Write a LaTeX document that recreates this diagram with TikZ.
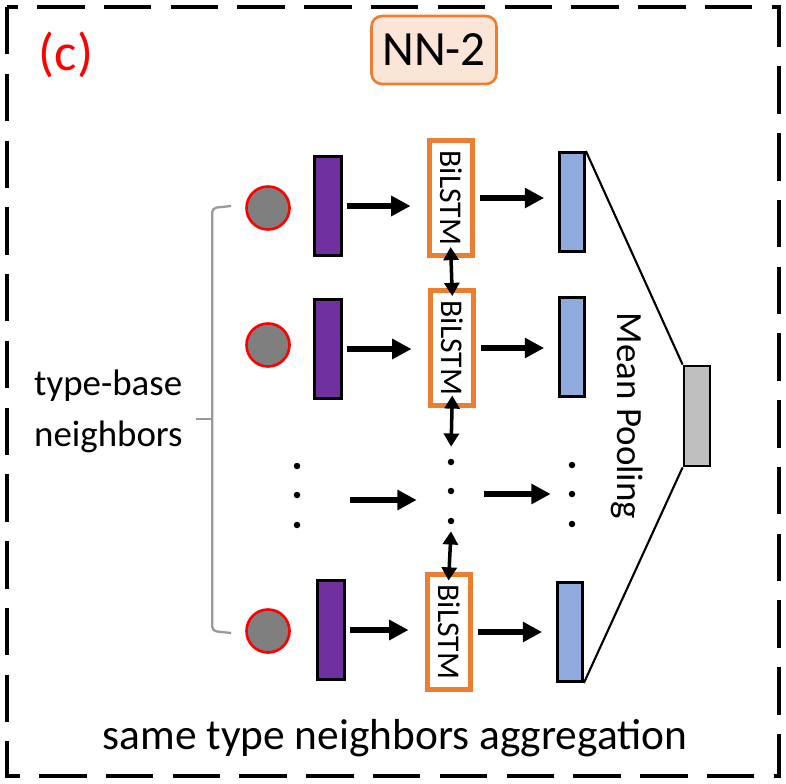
\documentclass[tikz,border=0pt]{standalone}
\usepackage{fontspec}
\setmainfont{Carlito}
\usetikzlibrary{arrows.meta}
\definecolor{nnorange}{HTML}{ED7D31}
\definecolor{nnpeach}{HTML}{FBE5D6}
\definecolor{embpurple}{HTML}{7030A0}
\definecolor{outblue}{HTML}{8FAADC}
\definecolor{poolgray}{HTML}{BFBFBF}
\definecolor{nbrgray}{HTML}{7F7F7F}
\definecolor{bracegray}{HTML}{999999}
\tikzstyle{nbr} = [circle, fill=nbrgray, draw=red, line width=1.5pt, minimum size=0.86cm, inner sep=0pt]
\tikzstyle{emb} = [rectangle, fill=embpurple, draw=black, line width=1.6pt, minimum width=0.55cm, minimum height=1.98cm, inner sep=0pt]
\tikzstyle{lstm} = [rectangle, draw=nnorange, fill=white, line width=2.8pt, rotate=-90, minimum width=2.3cm, minimum height=0.86cm, inner sep=0pt, font=\fontsize{18}{19}\selectfont]
\tikzstyle{outv} = [rectangle, fill=outblue, draw=black, line width=1.6pt, minimum width=0.5cm, minimum height=1.98cm, inner sep=0pt]
\tikzstyle{pool} = [rectangle, fill=poolgray, draw=black, line width=1.6pt, minimum width=0.52cm, minimum height=2cm, inner sep=0pt]
\tikzstyle{dotcol} = [minimum width=0.2cm, minimum height=1.6cm, inner sep=0pt]
\tikzstyle{flow} = [line width=3.5pt, -{Triangle[length=11pt,width=11pt]}]
\tikzstyle{link} = [line width=2pt, {Triangle[length=7.5pt,width=8.5pt]}-{Triangle[length=7.5pt,width=8.5pt]}]
\tikzstyle{bkt} = [bracegray, line width=1.3pt, rounded corners=2.5pt]

\begin{document}
\begin{tikzpicture}[x=0.02cm, y=-0.02cm]
    \useasboundingbox (0,0) rectangle (786,783);
    \draw[line width=2.8pt, dash pattern=on 27pt off 11pt] (7,7) rectangle (779,776);
    \node[text=red, font=\fontsize{30}{32}\selectfont] (lab) at (66,55) {(c)};
    \node[draw=nnorange, fill=nnpeach, rounded corners=6pt, line width=1.5pt, minimum width=2.5cm, minimum height=1.36cm, font=\fontsize{28}{30}\selectfont] (nn) at (434,50) {NN-2};
    % neighbors, embeddings, BiLSTMs, outputs
    \node[nbr] (n1) at (268,208) {};
    \node[nbr] (n2) at (268,345) {};
    \node[nbr] (n3) at (268,631) {};
    \node[emb] (e1) at (328,206) {};
    \node[emb] (e2) at (328,349) {};
    \node[emb] (e3) at (331,630) {};
    \node[lstm] (l1) at (451,198) {BiLSTM};
    \node[lstm] (l2) at (452,348) {BiLSTM};
    \node[lstm] (l3) at (449,632) {BiLSTM};
    \node[outv] (o1) at (572,202) {};
    \node[outv] (o2) at (572,347) {};
    \node[outv] (o3) at (570,632) {};
    \node[pool] (p) at (697,416) {};
    \node[dotcol] (dl) at (297,495) {};
    \node[dotcol] (dm) at (451,491) {};
    \node[dotcol] (dr) at (572,494) {};
    \foreach \n in {dl,dm,dr}
        \foreach \dy in {-0.6,0,0.58}
            \fill ([yshift=\dy cm]\n.center) circle (0.065cm);
    % arrows
    \foreach \i in {1,2,3} {
        \draw[flow, shorten <=0.08cm, shorten >=0.33cm] (e\i.east) -- (e\i.east -| l\i.south);
        \draw[flow, shorten <=0.11cm, shorten >=0.28cm] (l\i.north) -- (l\i.north -| o\i.west);
    }
    \draw[flow, shorten <=0.96cm, shorten >=0.58cm] ([yshift=-0.1cm]dl.east) -- ([yshift=-0.1cm]dl.east -| dm.west);
    \draw[flow, shorten <=0.56cm, shorten >=0.32cm] ([yshift=-0.06cm]dm.east) -- ([yshift=-0.06cm]dm.east -| dr.west);
    \draw[link, shorten <=-0.22cm, shorten >=-0.16cm] (l1.east) -- (l2.west);
    \draw[link, shorten <=-0.25cm, shorten >=0.08cm] (l2.east) -- (dm.north);
    \draw[link, shorten <=0cm, shorten >=-0.17cm] (dm.south) -- (l3.west);
    % mean pooling
    \draw[line width=1.2pt] (o1.north east) -- (p.north west);
    \draw[line width=1.2pt] (o3.south east) -- (p.south west);
    \node[rotate=-90, font=\fontsize{21}{22}\selectfont] (mp) at (627,416) {Mean Pooling};
    % bracket
    \draw[bkt] ([xshift=-0.28cm,yshift=0.04cm]n1.west) -- ([xshift=-0.66cm]n1.west) -- ([xshift=-0.66cm]n3.west) -- ([xshift=-0.28cm,yshift=-0.04cm]n3.west);
    \draw[bkt] (213,419) -- (196,419);
    \node[anchor=west, align=left, font=\fontsize{21}{29}\selectfont] (tb) at (28,411) {type-base\\neighbors};
    \node[font=\fontsize{24.7}{27}\selectfont] (cap) at (395,738) {same type neighbors aggregation};
\end{tikzpicture}
\end{document}
